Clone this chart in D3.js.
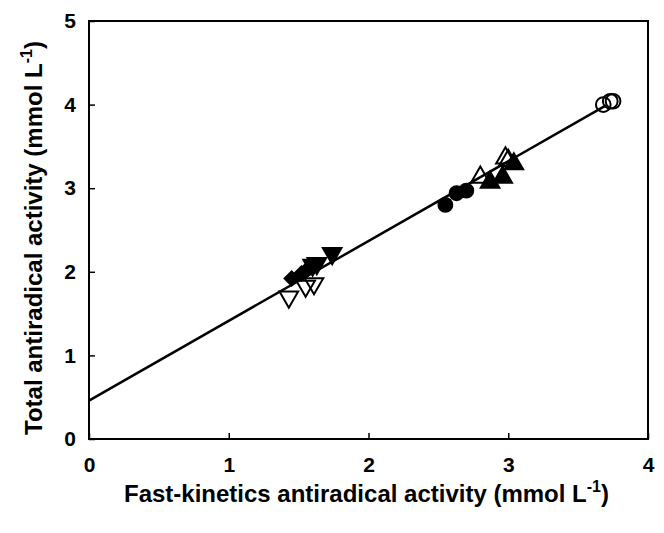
<!DOCTYPE html>
<html>
<head>
<meta charset="utf-8">
<script src="https://cdn.jsdelivr.net/npm/d3@7"></script>
<style>
	body { margin: 0; background: #fff; }
	text { font-family: "Liberation Sans", Arial, sans-serif; font-weight: bold; }
</style>
</head>
<body>
<script>
// series: [fast-kinetics, total]
const openDown = [[1.43, 1.70], [1.55, 1.83], [1.61, 1.86]];
const diamonds = [[1.45, 1.92], [1.52, 1.98], [1.55, 2.01]];
const filledDown = [[1.60, 2.08], [1.63, 2.10], [1.74, 2.22]];
const circlesFilled = [[2.55, 2.80], [2.63, 2.94], [2.70, 2.97]];
const openUp = [[2.80, 3.13], [2.98, 3.36], [3.00, 3.33]];
const filledUp = [[2.87, 3.07], [2.96, 3.13], [3.04, 3.29]];
const circlesOpen = [[3.68, 4.00], [3.73, 4.04], [3.75, 4.04]];
const fitLine = [[0, 0.46], [3.70, 3.99]];
const xTicks = [0, 1, 2, 3, 4];
const yTicks = [0, 1, 2, 3, 4, 5];

const width = 664, height = 533;
const margin = { left: 89, right: 16, top: 21, bottom: 94 };

let svg = d3.select('body').append('svg')
	.attr('width', width)
	.attr('height', height);

let x = d3.scaleLinear().domain([0, 4]).range([margin.left, width - margin.right]);
let y = d3.scaleLinear().domain([0, 5]).range([height - margin.bottom, margin.top]);

// frame
svg.append('rect')
	.attr('x', x(0)).attr('y', y(5))
	.attr('width', x(4) - x(0)).attr('height', y(0) - y(5))
	.style('fill', 'none').style('stroke', '#000').style('stroke-width', 2);

let xAxis = svg.append('g')
	.attr('transform', `translate(0,${y(0)})`)
	.call(d3.axisBottom(x).tickValues(xTicks).tickSize(-6).tickPadding(18).tickFormat(d3.format('d')));
let yAxis = svg.append('g')
	.attr('transform', `translate(${x(0)},0)`)
	.call(d3.axisLeft(y).tickValues(yTicks).tickSize(-6).tickPadding(13).tickFormat(d3.format('d')));

[xAxis, yAxis].forEach(a => {
	a.select('.domain').remove();
	a.selectAll('line').style('stroke', '#000').style('stroke-width', 1.5);
	a.selectAll('text').style('font-size', '21px').style('fill', '#000');
});

// regression line
svg.append('path')
	.datum(fitLine)
	.attr('d', d3.line().x(d => x(d[0])).y(d => y(d[1])))
	.style('fill', 'none').style('stroke', '#000').style('stroke-width', 2.5);

const series = [
	{ data: openDown, type: d3.symbolTriangle, rot: 180, fill: '#fff', size: 150 },
	{ data: diamonds, type: d3.symbolSquare, rot: 45, fill: '#000', size: 100 },
	{ data: filledDown, type: d3.symbolTriangle, rot: 180, fill: '#000', size: 150 },
	{ data: circlesFilled, type: d3.symbolCircle, rot: 0, fill: '#000', size: 150 },
	{ data: openUp, type: d3.symbolTriangle, rot: 0, fill: '#fff', size: 150 },
	{ data: filledUp, type: d3.symbolTriangle, rot: 0, fill: '#000', size: 150 },
	{ data: circlesOpen, type: d3.symbolCircle, rot: 0, fill: '#fff', size: 170 }
];

series.forEach(s => {
	svg.append('g').selectAll('path')
		.data(s.data)
		.enter().append('path')
		.attr('d', d3.symbol().type(s.type).size(s.size))
		.attr('transform', d => `translate(${x(d[0])},${y(d[1])}) rotate(${s.rot})`)
		.style('fill', s.fill)
		.style('fill-opacity', s.fill === '#fff' ? 0 : 1)
		.style('stroke', '#000')
		.style('stroke-width', 2);
});

// axis titles
let xt = svg.append('text')
	.attr('x', (x(0) + x(4)) / 2 - 2).attr('y', 502)
	.attr('text-anchor', 'middle')
	.style('font-size', '24px');
xt.append('tspan').text('Fast-kinetics antiradical activity (mmol L');
xt.append('tspan').attr('dy', -10).style('font-size', '16px').text('-1');
xt.append('tspan').attr('dy', 10).text(')');

let yt = svg.append('text')
	.attr('transform', `translate(42,${(y(0) + y(5)) / 2 + 8}) rotate(-90)`)
	.attr('text-anchor', 'middle')
	.style('font-size', '24px');
yt.append('tspan').text('Total antiradical activity (mmol L');
yt.append('tspan').attr('dy', -10).style('font-size', '16px').text('-1');
yt.append('tspan').attr('dy', 10).text(')');
</script>
</body>
</html>
